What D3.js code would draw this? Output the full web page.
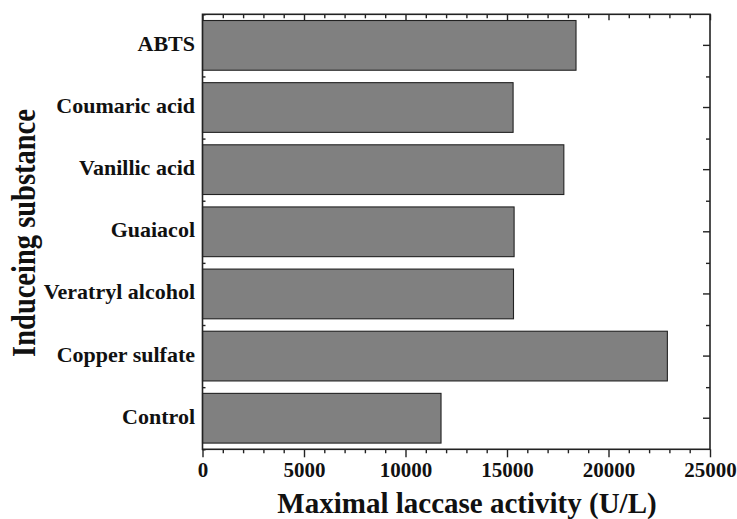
<!DOCTYPE html>
<html>
<head>
<meta charset="utf-8">
<script src="https://cdn.jsdelivr.net/npm/d3@7"></script>
<style>
  html, body { margin: 0; padding: 0; background: #fff; }
  svg { display: block; }
  text { font-family: "Liberation Serif", "Times New Roman", serif; font-weight: bold; fill: #111; }
</style>
</head>
<body>
<svg id="chart" width="737" height="519"></svg>
<script>
// Inducing substances, top to bottom
const categories = ["ABTS", "Coumaric acid", "Vanillic acid", "Guaiacol", "Veratryl alcohol", "Copper sulfate", "Control"];
// Maximal laccase activity (U/L) for each substance
const activity = [18400, 15300, 17800, 15350, 15320, 22900, 11750];
// Labelled x ticks
const xTicks = [0, 5000, 10000, 15000, 20000, 25000];
const xMinorTicks = d3.range(1000, 25000, 1000).filter(v => v % 5000 !== 0);

const svg = d3.select("#chart");
const plotLeft = 202.5, plotRight = 710, plotTop = 14.3, plotBottom = 449.3;
const ink = "#222";

const x = d3.scaleLinear().domain([0, 25000]).range([plotLeft, plotRight]);
const y = d3.scaleBand().domain(categories).range([plotTop, plotBottom])
  .paddingInner(0.2).paddingOuter(0.1);
// band boundaries (0..n) for the minor ticks on the category axes
const yEdge = d3.scaleLinear().domain([0, categories.length]).range([plotTop, plotBottom]);
const edges = d3.range(0, categories.length + 1);

// bars
svg.append("g").selectAll("rect")
  .data(categories)
  .join("rect")
  .attr("x", x(0))
  .attr("y", d => y(d))
  .attr("width", (d, i) => x(activity[i]) - x(0))
  .attr("height", y.bandwidth())
  .attr("fill", "#808080")
  .attr("stroke", ink)
  .attr("stroke-width", 1.1);

function clean(g) {
  g.select(".domain").remove();
  g.selectAll(".tick line").attr("stroke", ink).attr("stroke-width", 1.4);
}

// bottom axis: labelled majors + minors, pointing outward
svg.append("g").attr("transform", `translate(0,${plotBottom})`)
  .call(d3.axisBottom(x).tickValues(xTicks).tickSize(8).tickPadding(5).tickFormat(d3.format("d")))
  .call(clean)
  .call(g => g.selectAll("text").attr("font-size", 21).attr("font-family", null).attr("fill", "#111"));
svg.append("g").attr("transform", `translate(0,${plotBottom})`)
  .call(d3.axisBottom(x).tickValues(xMinorTicks).tickSize(4).tickFormat(""))
  .call(clean);

// top axis: inward ticks, no labels
svg.append("g").attr("transform", `translate(0,${plotTop})`)
  .call(d3.axisTop(x).tickValues(xTicks).tickSize(-6).tickFormat(""))
  .call(clean);
svg.append("g").attr("transform", `translate(0,${plotTop})`)
  .call(d3.axisTop(x).tickValues(xMinorTicks).tickSize(-4).tickFormat(""))
  .call(clean);

// left axis: category labels, crossing ticks at band edges
svg.append("g").attr("transform", `translate(${plotLeft},0)`)
  .call(d3.axisLeft(y).tickSize(0).tickPadding(7.5))
  .call(g => g.select(".domain").remove())
  .call(g => g.selectAll("text").attr("font-size", 22).attr("font-family", null)
    .attr("fill", "#111").attr("dy", "0.25em"));
svg.append("g").attr("transform", `translate(${plotLeft},0)`)
  .call(d3.axisLeft(yEdge).tickValues(edges).tickSize(3).tickFormat(""))
  .call(clean)
  .call(g => g.selectAll(".tick line").attr("x2", 3));

// right axis: inward ticks at band centres and band edges
svg.append("g").attr("transform", `translate(${plotRight},0)`)
  .call(d3.axisRight(y).tickSize(-7).tickFormat(""))
  .call(clean);
svg.append("g").attr("transform", `translate(${plotRight},0)`)
  .call(d3.axisRight(yEdge).tickValues(edges.slice(1, -1)).tickSize(-4).tickFormat(""))
  .call(clean);

// plot frame
svg.append("rect")
  .attr("x", plotLeft).attr("y", plotTop)
  .attr("width", plotRight - plotLeft).attr("height", plotBottom - plotTop)
  .attr("fill", "none").attr("stroke", ink).attr("stroke-width", 1.6);

// axis titles
svg.append("text")
  .attr("x", 467).attr("y", 513)
  .attr("text-anchor", "middle")
  .attr("font-size", 29)
  .text("Maximal laccase activity (U/L)");

svg.append("text")
  .attr("transform", "translate(35,233) scale(1.15,1) rotate(-90)")
  .attr("text-anchor", "middle")
  .attr("font-size", 28.5)
  .text("Induceing substance");
</script>
</body>
</html>
